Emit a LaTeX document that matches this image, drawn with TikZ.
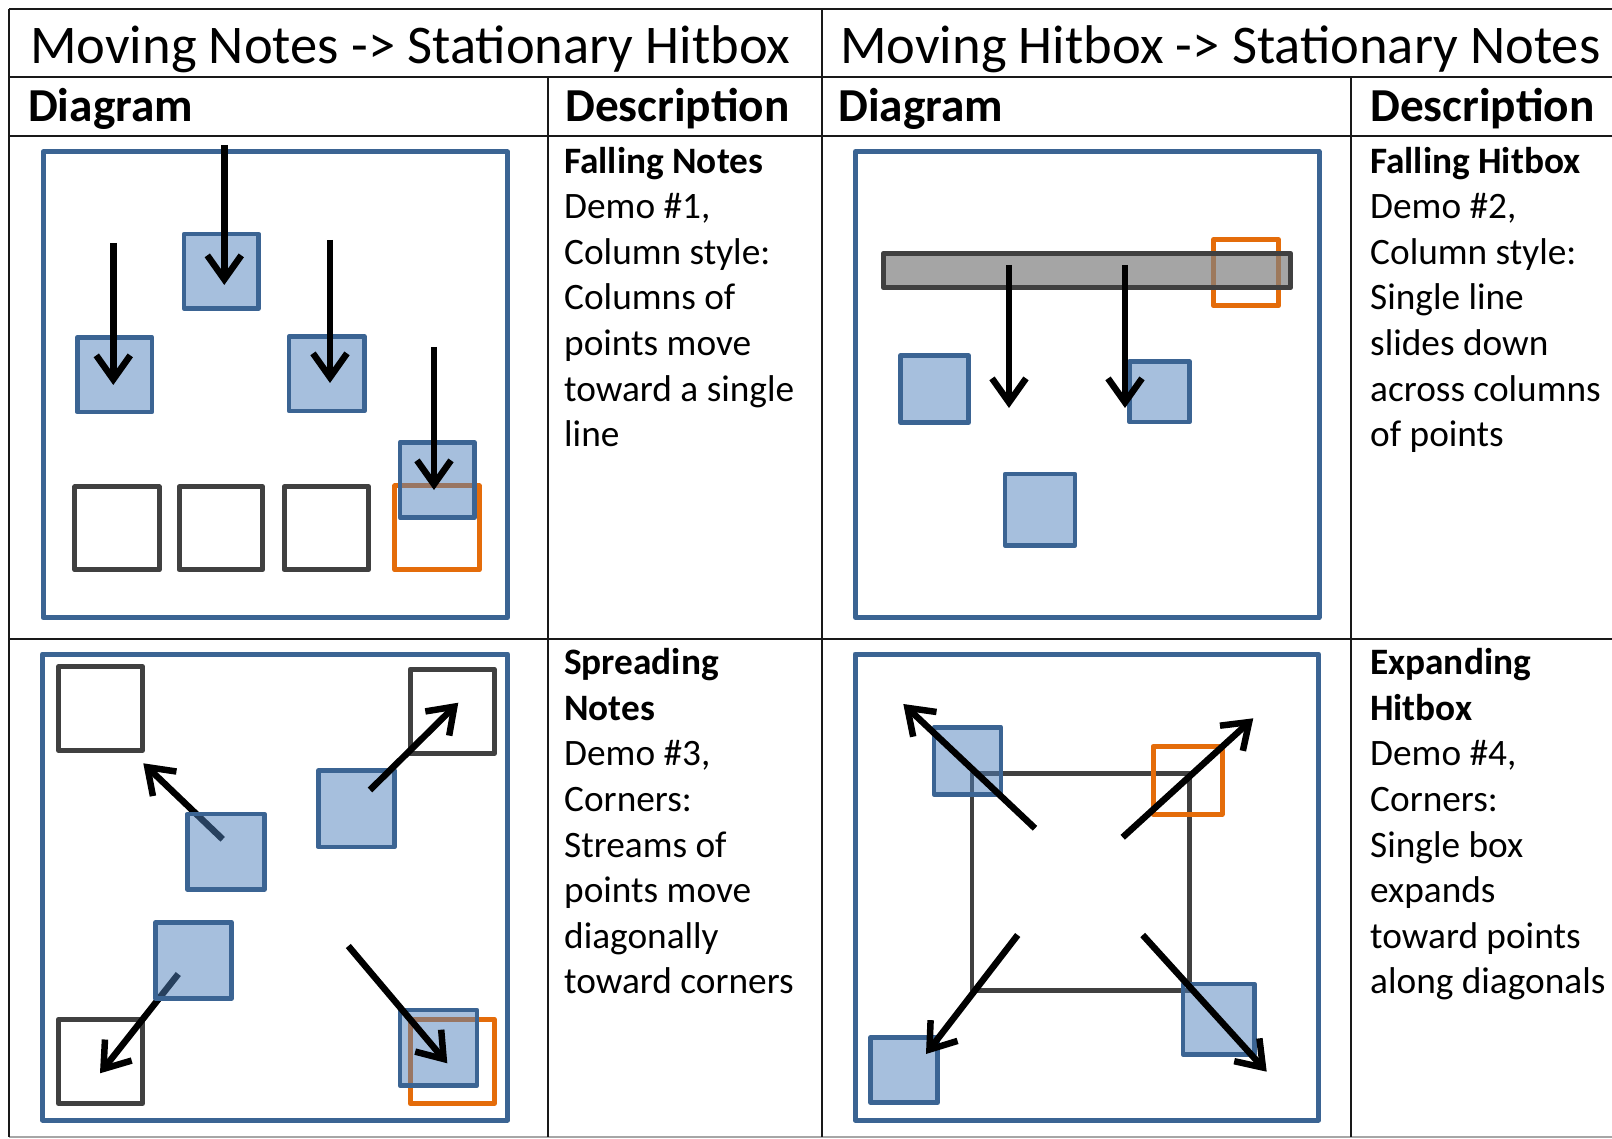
\documentclass[tikz,border=0pt]{standalone}
\usepackage{fontspec}
\setmainfont{Carlito}
\usetikzlibrary{arrows.meta}
\definecolor{bstroke}{HTML}{3B6493}
\definecolor{bfill}{HTML}{4F81BD}
\definecolor{gstroke}{HTML}{404040}
\definecolor{orng}{HTML}{E46C0A}
\definecolor{barfill}{HTML}{7F7F7F}
\begin{document}
\begin{tikzpicture}[x=1pt,y=-1pt,
  gridline/.style={line width=2.2pt,draw=black!90},
  frame/.style={draw=bstroke,line width=5pt,line join=round},
  note/.style={draw=bstroke,line width=4.5pt,fill=bfill,fill opacity=0.5,line join=round},
  hit/.style={draw=gstroke,line width=5pt,line join=round},
  bigbox/.style={draw=gstroke,line width=4.5pt,line join=round},
  bar/.style={draw=gstroke,line width=5pt,fill=barfill,fill opacity=0.7,line join=round},
  target/.style={draw=orng,line width=5pt,line join=round},
  mv/.style={line width=6.5pt,-{Straight Barb[length=24pt,width=34pt]}},
  headtxt/.style={anchor=base west,inner sep=0pt,font=\fontsize{54.5}{60}\selectfont},
  subtxt/.style={anchor=base west,inner sep=0pt,font=\bfseries\fontsize{47.3}{55}\selectfont},
  desc/.style={anchor=north west,inner sep=0pt,align=left,font=\fontsize{37.3}{45.6}\selectfont}
]
\useasboundingbox (0,0) rectangle (1612,1139);
\fill[white] (0,0) rectangle (1612,1139);

% ---------- table grid ----------
\draw[gridline] (9,9) -- (1612,9);
\draw[gridline] (9,77) -- (1612,77);
\draw[gridline] (9,136) -- (1612,136);
\draw[gridline] (9,639) -- (1612,639);
\draw[line width=2pt,draw=black!35] (9,1137) -- (1612,1137);
\draw[gridline] (9,9) -- (9,1137);
\draw[gridline] (822,9) -- (822,1137);
\draw[gridline] (548,77) -- (548,1137);
\draw[gridline] (1351,77) -- (1351,1137);

% ---------- headers ----------
\node[headtxt] (h1) at (30,64) {Moving Notes -> Stationary Hitbox};
\node[headtxt] (h2) at (840,64) {Moving Hitbox -> Stationary Notes};
\node[subtxt] (sd1) at (28,122) {Diagram};
\node[subtxt] (sp1) at (565,122) {Description};
\node[subtxt] (sd2) at (838,122) {Diagram};
\node[subtxt] (sp2) at (1370,122) {Description};

% ---------- descriptions ----------
\node[desc] (t1) at (564,141) {\strut\textbf{Falling Notes}\\Demo \#1,\\Column style:\\Columns of\\points move\\toward a single\\line};
\node[desc] (t2) at (1370,141) {\strut\textbf{Falling Hitbox}\\Demo \#2,\\Column style:\\Single line\\slides down\\across columns\\of points};
\node[desc] (t3) at (564,642.5) {\strut\textbf{Spreading}\\\textbf{Notes}\\Demo \#3,\\Corners:\\Streams of\\points move\\diagonally\\toward corners};
\node[desc] (t4) at (1370,642.5) {\strut\textbf{Expanding}\\\textbf{Hitbox}\\Demo \#4,\\Corners:\\Single box\\expands\\toward points\\along diagonals};

% ---------- Demo 1: falling notes ----------
\draw[frame] (43,152) rectangle (507.5,617.5);
\draw[hit] (74.8,486.8) rectangle (159.2,569.8);
\draw[hit] (179.2,486.8) rectangle (262.5,569.8);
\draw[hit] (284.2,486.8) rectangle (368.5,569.8);
\draw[target] (394.8,485.8) rectangle (479.2,569.8);
\draw[note] (184,234) rectangle (258.7,308.4);
\draw[note] (77.3,337.3) rectangle (152,412);
\draw[note] (289,336.6) rectangle (364.4,411);
\draw[note] (400,442.3) rectangle (474.4,517.7);
\coordinate (p1s) at (224.3,145);  \coordinate (p1e) at (224.3,285);
\coordinate (p2s) at (113.3,243);  \coordinate (p2e) at (113.3,385);
\coordinate (p3s) at (330,240);    \coordinate (p3e) at (330,383);
\coordinate (p4s) at (434,347);    \coordinate (p4e) at (434,490);
\draw[mv] (p1s) -- (p1e);
\draw[mv] (p2s) -- (p2e);
\draw[mv] (p3s) -- (p3e);
\draw[mv] (p4s) -- (p4e);

% ---------- Demo 2: falling hitbox ----------
\draw[frame] (855.5,151.5) rectangle (1319,617.5);
\draw[target] (1213.5,239.8) rectangle (1278.5,305.8);
\draw[bar] (883.2,253.5) rectangle (1290.8,287.5);
\draw[note] (900.6,355.6) rectangle (968.7,422.7);
\draw[note] (1129.6,361.3) rectangle (1189.4,422);
\draw[note] (1005,474) rectangle (1075,545.4);
\coordinate (q1s) at (1009,265);  \coordinate (q1e) at (1009,408);
\coordinate (q2s) at (1125,265);  \coordinate (q2e) at (1125,408);
\draw[mv] (q1s) -- (q1e);
\draw[mv] (q2s) -- (q2e);

% ---------- Demo 3: spreading notes ----------
\draw[frame] (42.5,654) rectangle (507.5,1120);
\draw[hit] (58.5,666.8) rectangle (142.5,750.2);
\draw[hit] (410.2,669.2) rectangle (494.2,753.5);
\draw[hit] (58.5,1019.2) rectangle (142.5,1103.5);
\draw[target] (410.2,1019.2) rectangle (494.2,1103.5);
\coordinate (r1s) at (222.7,839.3); \coordinate (r1e) at (143.3,763.3);
\coordinate (r2s) at (370,790);     \coordinate (r2e) at (458.3,702.7);
\coordinate (r3s) at (178.3,974);   \coordinate (r3e) at (100,1073.3);
\coordinate (r4s) at (348.3,946);   \coordinate (r4e) at (447.3,1063.3);
\draw[mv] (r1s) -- (r1e);
\draw[mv] (r3s) -- (r3e);
\draw[note] (187.3,814) rectangle (264.4,889.4);
\draw[note] (318.3,770.6) rectangle (394.4,847);
\draw[note] (155.6,922.3) rectangle (231.7,998.4);
\draw[note] (400,1010) rectangle (477,1085.4);
\draw[mv] (r2s) -- (r2e);
\draw[mv] (r4s) -- (r4e);

% ---------- Demo 4: expanding hitbox ----------
\draw[frame] (855,654) rectangle (1318.5,1120);
\draw[bigbox] (972,773.7) rectangle (1189.7,990.7);
\draw[note] (934,727.3) rectangle (1001,794.4);
\draw[note] (1183,984) rectangle (1254.4,1054.4);
\draw[note] (870.6,1037.3) rectangle (937.7,1102.7);
\draw[target] (1153,746.6) rectangle (1222,814.4);
\coordinate (s1s) at (1035,828.3);   \coordinate (s1e) at (903.3,704);
\coordinate (s2s) at (1122.7,837.3); \coordinate (s2e) at (1253.3,718.3);
\coordinate (s3s) at (1017.7,935);   \coordinate (s3e) at (926,1054);
\coordinate (s4s) at (1142.7,935);   \coordinate (s4e) at (1266.7,1071.7);
\draw[mv] (s1s) -- (s1e);
\draw[mv] (s2s) -- (s2e);
\draw[mv] (s3s) -- (s3e);
\draw[mv] (s4s) -- (s4e);
\end{tikzpicture}
\end{document}
